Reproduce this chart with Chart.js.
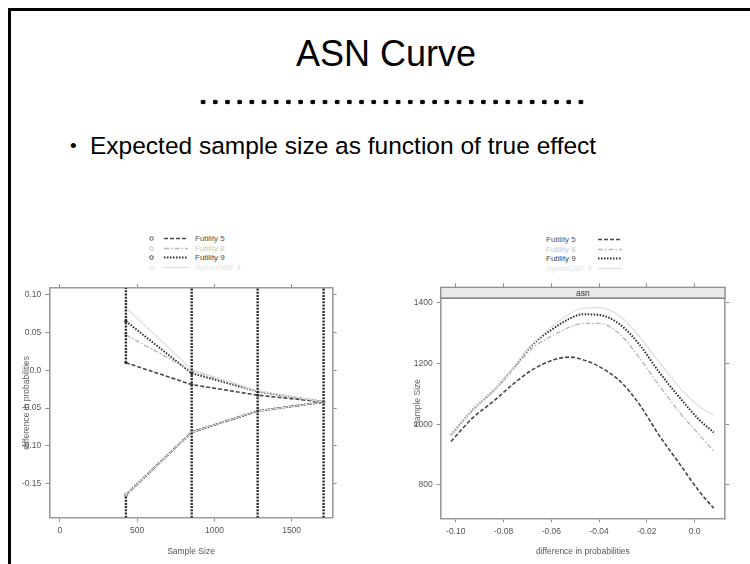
<!DOCTYPE html>
<html>
<head>
<meta charset="utf-8">
<script src="https://cdn.jsdelivr.net/npm/chart.js@4.4.1/dist/chart.umd.min.js"></script>
<style>
  html, body { margin:0; padding:0; background:#fff; }
  body { width:750px; height:564px; overflow:hidden; position:relative; font-family:"Liberation Sans", Arial, sans-serif; }
  #frame { position:absolute; left:8px; top:8px; width:820px; height:640px; border-left:3px solid #000; border-top:3px solid #000; }
  #title { position:absolute; left:0; width:772px; top:34px; text-align:center; font-size:36px; line-height:40px; color:#000; }
  #dots { position:absolute; left:197px; top:98.5px; width:390.4px; height:6.4px;
          background-image:radial-gradient(circle at center, #000 0, #000 2.3px, rgba(0,0,0,0) 2.8px);
          background-size:12.2px 6.4px; background-repeat:repeat-x; }
  #bullet { position:absolute; left:70px; top:131px; font-size:24.5px; line-height:30px; color:#000; white-space:nowrap; }
  #bullet span.b { display:inline-block; width:20px; font-size:19px; vertical-align:top; }
  .legend { position:absolute; font-family:"Liberation Sans Narrow","Liberation Sans",Arial,sans-serif; font-size:8px; line-height:9.5px; }
  .legend .row { position:relative; height:9.5px; white-space:nowrap; }
  .legend svg { position:absolute; top:2px; }
  .legend .txt { position:absolute; top:0; }
  canvas { position:absolute; }
</style>
</head>
<body>
<div id="frame"></div>
<div id="title">ASN Curve</div>
<div id="dots"></div>
<div id="bullet"><span class="b">•</span>Expected sample size as function of true effect</div>
<div id="legendLeft" class="legend" style="left:148px; top:234px; width:120px;"></div>
<div id="legendRight" class="legend" style="left:546px; top:235px; width:120px;"></div>
<canvas id="left" width="345" height="294" style="left:0px; top:270px; width:345px; height:294px;"></canvas>
<canvas id="right" width="370" height="294" style="left:380px; top:270px; width:370px; height:294px;"></canvas>
<script>
// ---------- data ----------
const seriesNames = ["Futility 5", "Futility 8", "Futility 9", "SymmOBF 4"];

// left panel: stopping boundaries
const sampleSizes    = [427, 853, 1280, 1707];
const upperFutility5 = [0.010, -0.019, -0.033, -0.042];
const upperFutility8 = [0.047, -0.001, -0.028, -0.042];
const upperFutility9 = [0.065, -0.004, -0.028, -0.042];
const upperSymmOBF4  = [0.083,  0.001, -0.027, -0.042];
const lowerBoundary  = [-0.165, -0.082, -0.054, -0.042];
// continuation (no-stop) gap drawn open on each analysis' vertical line; null = line drawn full height
const openGap = [[-0.165, 0.010], null, null, null];
const leftXTicks = [0, 500, 1000, 1500];
const leftXTickLabels = ["0", "500", "1000", "1500"];
const leftYTicks = [0.10, 0.05, 0.0, -0.05, -0.10, -0.15];
const leftYTickLabels = ["0.10", "0.05", "0.0", "-0.05", "-0.10", "-0.15"];
const leftXRange = [-69, 1766];
const leftYRange = [-0.1952, 0.1089];

// right panel: ASN curves
const diffProb     = [-0.102, -0.093, -0.084, -0.076, -0.068, -0.059, -0.052, -0.047, -0.040, -0.031, -0.023, -0.015, -0.006, 0.002, 0.008];
const asnFutility5 = [943, 1020, 1077, 1132, 1179, 1212, 1221, 1213, 1190, 1140, 1064, 965, 866, 778, 723];
const asnFutility8 = [964, 1045, 1110, 1180, 1250, 1294, 1321, 1332, 1332, 1294, 1217, 1129, 1036, 965, 911];
const asnFutility9 = [965, 1047, 1113, 1184, 1261, 1316, 1349, 1362, 1360, 1327, 1261, 1173, 1085, 1014, 973];
const asnSymmOBF4  = [966, 1048, 1114, 1186, 1263, 1327, 1365, 1382, 1384, 1354, 1288, 1206, 1118, 1058, 1030];
const rightXTicks = [-0.10, -0.08, -0.06, -0.04, -0.02, 0.0];
const rightXTickLabels = ["-0.10", "-0.08", "-0.06", "-0.04", "-0.02", "0.0"];
const rightYTicks = [800, 1000, 1200, 1400];
const rightYTickLabels = ["800", "1000", "1200", "1400"];
const rightXRange = [-0.1063, 0.0127];
const rightYRange = [690, 1451];

// ---------- styles ----------
const styles = [
  { color:"#484848", dash:[4,2],       width:1.6, text:"#555" },
  { color:"#b8b8b8", dash:[5,2,1.5,2], width:1.4, text:"#c8c8c8" },
  { color:"#303030", dash:[1.5,1.5],   width:2.0, text:"#444" },
  { color:"#dedede", dash:[],          width:1.2, text:"#e2e2e2" }
];

// ---------- legends ----------
function buildLegend(el, withSymbol, lineLeft, textLeft) {
  seriesNames.forEach((name, i) => {
    const s = styles[i];
    const row = document.createElement("div");
    row.className = "row";
    let html = "";
    if (withSymbol) {
      html += '<svg width="8" height="8" style="left:0;top:1px"><circle cx="3.5" cy="3.5" r="1.8" fill="none" stroke="' + s.color + '" stroke-width="0.9"/></svg>';
    }
    html += '<svg width="24" height="5" style="left:' + lineLeft + 'px"><line x1="0" y1="2.5" x2="24" y2="2.5" stroke="' + s.color + '" stroke-width="' + s.width + '" stroke-dasharray="' + (s.dash.length ? s.dash.join(" ") : "none") + '"/></svg>';
    html += '<span class="txt" style="left:' + textLeft + 'px;color:' + s.text + '">' + name + '</span>';
    row.innerHTML = html;
    el.appendChild(row);
  });
}
buildLegend(document.getElementById("legendLeft"), true, 16, 47);
buildLegend(document.getElementById("legendRight"), false, 52, 0);

// ---------- chart helpers ----------
Chart.defaults.font.family = '"Liberation Sans Narrow","Liberation Sans",Arial,sans-serif';
Chart.defaults.font.size = 8.5;
Chart.defaults.color = "#555";
Chart.defaults.animation = false;

function makeAxis(axisDir, pos, range, ticks, labels, size, showLabels, title) {
  return {
    type: "linear", axis: axisDir, position: pos, min: range[0], max: range[1],
    afterBuildTicks: s => { s.ticks = ticks.map(v => ({ value: v })); },
    afterFit: s => { if (axisDir === "x") s.height = size; else s.width = size; },
    grid: { display: true, drawOnChartArea: false, drawTicks: true, tickLength: 4, color: "#8c8c8c", lineWidth: 1 },
    border: { display: true, color: "#9a9a9a", width: 1.6 },
    ticks: { display: showLabels, padding: showLabels ? 4 : 0, color: "#555", autoSkip: false, maxRotation: 0,
             callback: (v, i) => labels ? labels[i] : "" },
    title: title || { display: false }
  };
}

function lineDs(points, st, extra) {
  return Object.assign({
    data: points, borderColor: st.color, borderWidth: st.width, borderDash: st.dash,
    pointRadius: 0, fill: false, tension: 0, showLine: true
  }, extra || {});
}

// ---------- left chart ----------
const uppers = [upperFutility5, upperFutility8, upperFutility9, upperSymmOBF4];
const leftDatasets = [];
const vertStyle = { borderColor: "#2c2c2c", borderWidth: 2.4, borderDash: [2, 1.2], pointRadius: 0, showLine: true };
sampleSizes.forEach((n, k) => {
  const segs = openGap[k]
    ? [[leftYRange[0], openGap[k][0]], [openGap[k][1], leftYRange[1]]]
    : [[leftYRange[0], leftYRange[1]]];
  segs.forEach(s => {
    leftDatasets.push(Object.assign({ data: [{ x: n, y: s[0] }, { x: n, y: s[1] }] }, vertStyle));
  });
});
[3, 1, 2, 0].forEach(i => {
  leftDatasets.push(lineDs(sampleSizes.map((n, k) => ({ x: n, y: uppers[i][k] })), styles[i],
    { pointRadius: 1.6, pointBackgroundColor: styles[i].color, pointBorderWidth: 0 }));
});
[3, 2, 0, 1].forEach(i => {
  leftDatasets.push(lineDs(sampleSizes.map((n, k) => ({ x: n, y: lowerBoundary[k] })), styles[i],
    { pointRadius: 1.6, pointBackgroundColor: styles[i].color, pointBorderWidth: 0 }));
});

new Chart(document.getElementById("left"), {
  type: "scatter",
  data: { datasets: leftDatasets },
  options: {
    responsive: false, maintainAspectRatio: false,
    layout: { padding: 0 },
    plugins: { legend: { display: false }, tooltip: { enabled: false } },
    scales: {
      x: makeAxis("x", "bottom", leftXRange, leftXTicks, leftXTickLabels, 46.3, true,
            { display: true, text: "Sample Size", color: "#555", font: { size: 8.5 }, padding: { top: 0, bottom: 7.6 } }),
      x2: makeAxis("x", "top", leftXRange, leftXTicks, null, 18, false),
      y: makeAxis("y", "left", leftYRange, leftYTicks, leftYTickLabels, 49.3, true,
            { display: true, text: "difference in probabilities", color: "#666", font: { size: 8.5 }, padding: { top: 21.6, bottom: 0 } }),
      y2: makeAxis("y", "right", leftYRange, leftYTicks, null, 12.3, false)
    }
  }
});

// ---------- right chart ----------
const stripPlugin = {
  id: "strip",
  afterDraw(chart) {
    const { ctx, chartArea } = chart;
    const h = 11;
    ctx.save();
    ctx.fillStyle = "#e9e9e9";
    ctx.fillRect(chartArea.left, chartArea.top, chartArea.right - chartArea.left, h);
    ctx.strokeStyle = "#8a8a8a";
    ctx.lineWidth = 1.2;
    ctx.strokeRect(chartArea.left, chartArea.top, chartArea.right - chartArea.left, h);
    ctx.lineWidth = 1.4;
    ctx.beginPath();
    ctx.moveTo(chartArea.left, chartArea.top + h);
    ctx.lineTo(chartArea.right, chartArea.top + h);
    ctx.stroke();
    ctx.fillStyle = "#333";
    ctx.font = '8.5px "Liberation Sans Narrow","Liberation Sans",Arial,sans-serif';
    ctx.textAlign = "center";
    ctx.textBaseline = "middle";
    ctx.fillText("asn", (chartArea.left + chartArea.right) / 2, chartArea.top + h / 2 + 0.5);
    ctx.restore();
  }
};

const asnSeries = [asnFutility5, asnFutility8, asnFutility9, asnSymmOBF4];
const rightDatasets = [3, 1, 2, 0].map(i =>
  lineDs(diffProb.map((d, k) => ({ x: d, y: asnSeries[i][k] })), styles[i],
         { cubicInterpolationMode: "monotone", tension: 0.4 }));

new Chart(document.getElementById("right"), {
  type: "scatter",
  data: { datasets: rightDatasets },
  options: {
    responsive: false, maintainAspectRatio: false,
    layout: { padding: 0 },
    plugins: { legend: { display: false }, tooltip: { enabled: false } },
    scales: {
      x: makeAxis("x", "bottom", rightXRange, rightXTicks, rightXTickLabels, 45.7, true,
            { display: true, text: "difference in probabilities", color: "#555", font: { size: 8.5 }, padding: { top: 0, bottom: 6.9 } }),
      x2: makeAxis("x", "top", rightXRange, rightXTicks, null, 17.3, false),
      y: makeAxis("y", "left", rightYRange, rightYTicks, rightYTickLabels, 60.7, true,
            { display: true, text: "Sample Size", color: "#666", font: { size: 8.5 }, padding: { top: 32.6, bottom: 0 } }),
      y2: makeAxis("y", "right", rightYRange, rightYTicks, null, 25, false)
    }
  },
  plugins: [stripPlugin]
});
</script>
</body>
</html>
